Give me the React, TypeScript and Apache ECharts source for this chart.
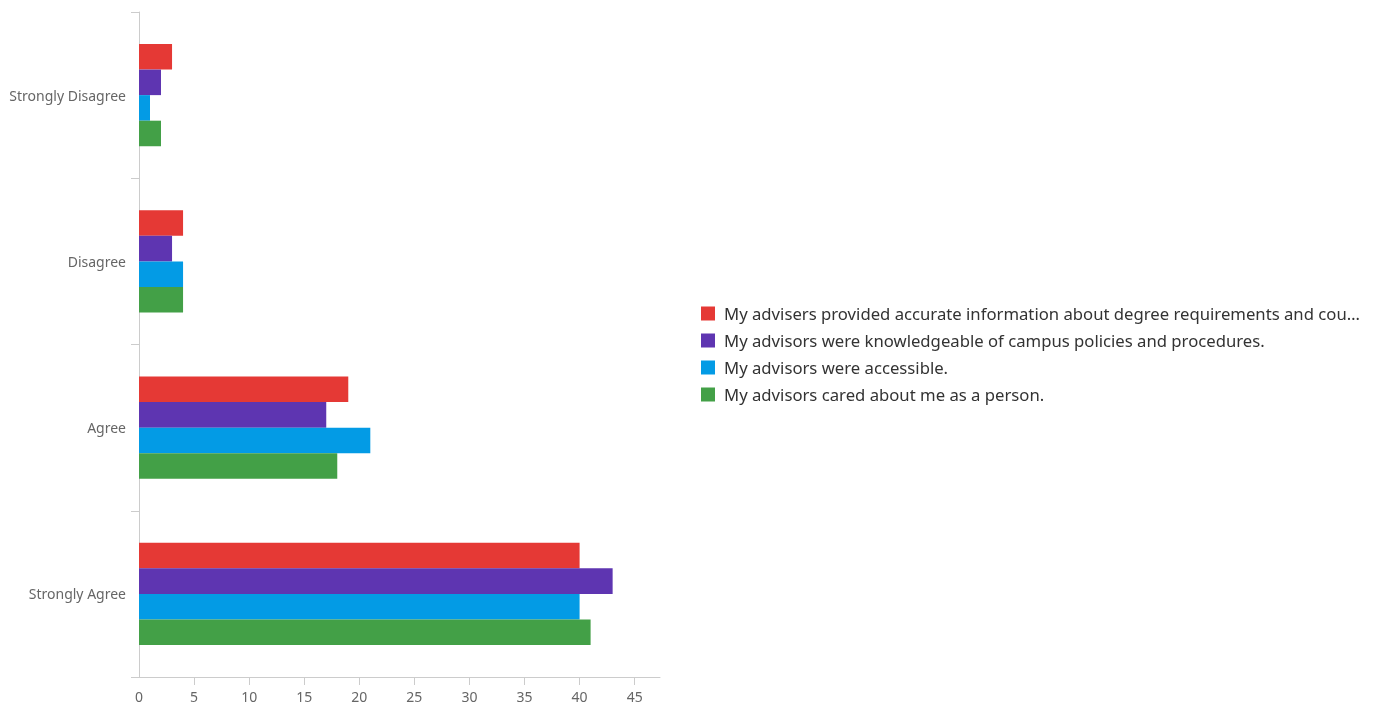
import React, { useEffect, useRef } from "react";
import * as echarts from "echarts";

const categories = ["Strongly Disagree", "Disagree", "Agree", "Strongly Agree"];
const seriesNames = [
  "My advisers provided accurate information about degree requirements and cou…",
  "My advisors were knowledgeable of campus policies and procedures.",
  "My advisors were accessible.",
  "My advisors cared about me as a person.",
];
const accurateInfo = [3, 4, 19, 40];
const knowledgeable = [2, 3, 17, 43];
const accessible = [1, 4, 21, 40];
const caredAbout = [2, 4, 18, 41];
const colors = ["#e53935", "#5e35b1", "#039be5", "#43a047"];
const xTickLabels = [0, 5, 10, 15, 20, 25, 30, 35, 40, 45];
const xTickMarks = [5, 10, 15, 20, 25, 30, 35, 40, 45];

const FONT = "'Noto Sans', sans-serif";

export default function App() {
  const ref = useRef<HTMLDivElement>(null);
  useEffect(() => {
    if (!ref.current) return;
    const chart = echarts.init(ref.current, null, { renderer: "svg" });
    const values = [accurateInfo, knowledgeable, accessible, caredAbout];
    chart.setOption({
      animation: false,
      textStyle: { fontFamily: FONT },
      grid: { left: 139, right: 720, top: 12, bottom: 30, containLabel: false },
      legend: {
        orient: "vertical",
        left: 696,
        top: 300,
        itemWidth: 14,
        itemHeight: 14,
        itemGap: 10,
        icon: "rect",
        textStyle: { fontSize: 16.7, lineHeight: 17, color: "#333", fontFamily: FONT, padding: [0, 0, 0, 4] },
        data: seriesNames,
      },
      xAxis: {
        type: "value",
        min: 0,
        max: 47.3,
        interval: 5,
        splitLine: { show: false },
        axisLine: { show: true, lineStyle: { color: "#ccc" } },
        axisTick: { show: true, length: 8, lineStyle: { color: "#ccc" }, customValues: xTickMarks },
        axisLabel: { color: "#666", fontSize: 14, margin: 12, customValues: xTickLabels },
      },
      yAxis: {
        type: "category",
        inverse: true,
        data: categories,
        axisLine: { show: true, lineStyle: { color: "#ccc" } },
        axisTick: { show: true, length: 8, lineStyle: { color: "#ccc" } },
        axisLabel: { color: "#666", fontSize: 14, margin: 13 },
      },
      series: seriesNames.map((name, i) => ({
        name,
        type: "bar",
        data: values[i],
        itemStyle: { color: colors[i] },
        barGap: "0%",
        barCategoryGap: "38.5%",
      })),
    });
    return () => chart.dispose();
  }, []);
  return (
    <div style={{ position: "fixed", left: 0, top: 0, width: 1380, height: 707 }}>
      <div ref={ref} style={{ width: 1380, height: 707 }} />
    </div>
  );
}
